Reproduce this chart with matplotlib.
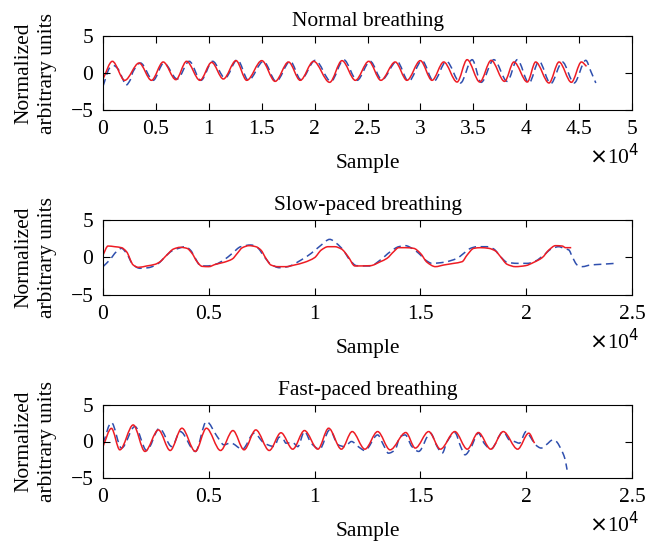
import numpy as np
import matplotlib
matplotlib.use("Agg")
import matplotlib.pyplot as plt
from matplotlib.path import Path
from matplotlib.patches import PathPatch

plt.rcParams['font.family'] = ['Liberation Serif', 'DejaVu Serif']

# ---------------- data ----------------
titles = ["Normal breathing", "Slow-paced breathing", "Fast-paced breathing"]
x_max = [5e4, 2.5e4, 2.5e4]
x_tick_labels = [["0", "0.5", "1", "1.5", "2", "2.5", "3", "3.5", "4", "4.5", "5"],
                 ["0", "0.5", "1", "1.5", "2", "2.5"],
                 ["0", "0.5", "1", "1.5", "2", "2.5"]]
y_ticks = [-5, 0, 5]

# Normal breathing
normal_red_x = [0, 885, 2054, 3412, 4581, 5687, 6888, 7899, 9163, 10269, 11374, 12575,
                13586, 15008, 16272, 17536, 18641, 19905, 21422, 22591, 23855, 25118,
                26264, 27622, 28728, 29992, 31098, 32204, 33468, 34415, 35616, 36690,
                37954, 38839, 40103, 40893, 42156, 43104, 44273, 45221, 45700]
normal_red_y = [-0.8, 1.58, -0.99, 1.35, -0.99, 1.49, -0.9, 1.58, -0.99, 1.44, -0.81, 1.67,
                -0.99, 1.67, -1.13, 1.49, -0.99, 1.58, -1.26, 1.67, -0.99, 1.58,
                -0.99, 1.49, -0.99, 1.67, -0.99, 1.49, -1.22, 1.8, -1.22, 1.71,
                -1.13, 1.49, -1.22, 1.49, -1.35, 1.49, -1.26, 1.49, 0.9]
normal_blue_x = [0, 632, 1011, 1422, 1896, 2149, 2591, 2844, 3539, 4740, 5750, 7014, 8152,
                 9258, 10363, 11532, 12701, 13744, 15166, 16367, 17694, 18705, 20063,
                 21548, 22749, 24013, 25253, 26359, 27780, 28886, 30150, 31256, 32457,
                 33784, 34890, 35743, 36943, 38207, 39155, 40261, 41209, 42314, 43420,
                 44526, 45632, 46106, 46580]
normal_blue_y = [-1.8, 0.68, 1.0, 0.54, -0.9, -1.67, -0.9, 0.2, 1.35, -0.99, 1.35, -0.81, 1.58,
                 -0.99, 1.58, -0.68, 1.8, -0.99, 1.58, -1.13, 1.58, -0.9, 1.71,
                 -1.13, 1.8, -0.99, 1.58, -0.9, 1.58, -1.13, 1.67, -1.13, 1.58,
                 -1.35, 1.8, -1.26, 1.8, -1.13, 1.8, -1.35, 1.58, -1.44, 1.49,
                 -1.35, 1.71, 0.23, -1.35]

# Slow-paced breathing
slow_red_x = [0, 238, 556, 873, 1111, 1429, 1667, 2063, 2460, 2698, 3016, 3333, 3651, 3968,
              4206, 4444, 4683, 5000, 5317, 5714, 6111, 6349, 6587, 6905, 7222, 7460, 7698,
              7937, 8254, 8651, 9048, 9524, 10000, 10317, 10635, 10952, 11270, 11587, 11905,
              12634, 13107, 13423, 13738, 13975, 14290, 14685, 15000, 15315, 15710,
              16104, 16577, 16971, 17208, 17523, 17839, 18233, 18548, 18785, 19100, 19495,
              19968, 20362, 20756, 21072, 21387, 21702, 21860, 22128]
slow_red_y = [0.33, 1.53, 1.44, 1.31, 0.78, -1.0, -1.31, -1.13, -0.91, -0.56, 0.33, 1.13, 1.36, 1.22,
              0.56, -0.56, -1.18, -1.22, -0.91, -0.64, -0.2, 0.56, 1.31, 1.58, 1.44, 1.0, -0.11,
              -1.0, -1.22, -1.22, -1.0, -0.64, -0.02, 1.0, 1.44, 1.44, 1.13, 0.11, -1.13,
              -1.09, -0.56, -0.11, 0.78, 1.31, 1.31, 1.22, 0.56, -0.64, -1.22,
              -1.0, -0.78, -0.56, 0.33, 1.22, 1.31, 1.22, 0.87, 0.11, -0.91, -1.22,
              -1.09, -0.64, -0.02, 1.0, 1.58, 1.53, 1.31, 1.31]
slow_blue_x = [0, 317, 635, 873, 1111, 1429, 1746, 2143, 2619, 2937, 3254, 3571, 3889, 4127,
               4365, 4603, 4921, 5317, 5714, 6111, 6508, 6984, 7302, 7619, 7937, 8333, 8730,
               9365, 9841, 10317, 10714, 11032, 11349, 11667, 11984, 12634, 13107, 13580,
               13975, 14290, 14606, 14921, 15237, 15552, 16104, 16735, 17050, 17366, 17681,
               18154, 18469, 18785, 19100, 19573, 20047, 20441, 20835, 21230, 21545, 21781,
               22018, 22175, 22412, 22648, 23042, 23516, 24225]
slow_blue_y = [-1.22, -0.33, 0.78, 1.22, 0.56, -1.0, -1.44, -1.36, -0.78, 0.11, 0.87, 1.22, 1.44, 1.0,
               -0.11, -1.09, -1.13, -0.91, -0.33, 0.56, 1.44, 1.67, 1.31, 0.11, -0.91, -1.36, -1.22,
               -0.33, 0.56, 1.67, 2.42, 1.89, 1.0, -0.33, -1.09, -1.13, -0.33, 0.78,
               1.44, 1.58, 1.22, 0.56, -0.33, -0.78, -0.64, -0.11, 0.56, 1.22, 1.44,
               1.44, 1.13, 0.11, -0.64, -0.78, -0.78, -0.47, 0.33, 1.22, 1.44, 1.22,
               1.0, 0.11, -1.0, -1.22, -1.0, -0.91, -0.78]

# Fast-paced breathing
fast_red_x = [0, 398, 795, 1429, 1985, 2619, 3175, 3730, 4365, 4888, 5555, 6142, 6666, 7221,
              7856, 8411, 8967, 9520, 10155, 10663, 11266, 11777, 12377, 12980, 13566,
              14312, 14758, 15391, 15946, 16628, 17216, 17740, 18326, 18916, 19597,
              20120, 20392]
fast_red_y = [-0.68, 1.8, -1.14, 2.27, -1.36, 1.59, -1.23, 1.82, -1.36, 1.82, -1.23, 1.5, -1.14, 1.59,
              -1.23, 1.2, -1.05, 1.5, -1.05, 1.82, -1.05, 1.36, -1.05, 1.36, -1.14,
              1.23, -0.9, 1.36, -1.05, 1.36, -1.05, 1.23, -1.05, 1.36, -1.05,
              1.14, -0.23]
fast_blue_x = [0, 398, 874, 1509, 2064, 2667, 3254, 3651, 4365, 4888, 5396, 5713, 6031, 6586,
               7142, 7618, 8094, 8330, 8491, 8649, 8967, 9205, 9520, 9839, 10236, 10712,
               11109, 11426, 11744, 12061, 12378, 12981, 13251, 13489, 13807, 14045, 14283,
               14600, 14918, 15473, 15791, 16029, 16265, 16628, 16900, 17107, 17376, 17740,
               18010, 18326, 18916, 19200, 19440, 19677, 19995, 20185, 20439, 20709, 20947,
               21264, 21423, 21661, 21820, 21931]
fast_blue_y = [-0.3, 2.6, -0.9, 2.05, -1.23, 1.8, -0.7, 1.36, -1.36, 2.73, 0.68, -0.45, -0.2, -1.05,
               1.14, -0.23, -0.68, 0.6, 0.45, -0.23, -0.15, -0.7, 1.36, -0.23, -1.05, 1.59,
               -0.45, -0.7, 0.0, -0.7, -1.23, 0.9, -0.45, -1.6, -1.14, 0.68, 0.9,
               -0.7, -1.36, 1.14, -0.7, -1.6, 0.0, 1.23, -0.68, -1.82, -0.9, 1.14,
               -0.23, -1.05, 1.36, 0.23, 0.0, -0.23, 1.36, 0.68, -0.45, -0.9, -0.45,
               0.23, 0.0, -1.14, -2.27, -3.86]

series = [
    (normal_blue_x, normal_blue_y, normal_red_x, normal_red_y),
    (slow_blue_x, slow_blue_y, slow_red_x, slow_red_y),
    (fast_blue_x, fast_blue_y, fast_red_x, fast_red_y),
]

RED = '#ee1c24'
BLUE = '#2f4fae'


def smooth_line(ax, x, y, **kw):
    """Render the read points as a smooth (monotone cubic Bezier) path."""
    x = np.asarray(x, float)
    y = np.asarray(y, float)
    d = np.diff(y) / np.diff(x)
    m = np.zeros_like(y)
    m[0], m[-1] = d[0], d[-1]
    for i in range(1, len(y) - 1):
        if d[i - 1] * d[i] > 0:
            m[i] = 2.0 / (1.0 / d[i - 1] + 1.0 / d[i])
    verts = [(x[0], y[0])]
    codes = [Path.MOVETO]
    for i in range(len(x) - 1):
        h = x[i + 1] - x[i]
        verts += [(x[i] + h / 3, y[i] + m[i] * h / 3),
                  (x[i + 1] - h / 3, y[i + 1] - m[i + 1] * h / 3),
                  (x[i + 1], y[i + 1])]
        codes += [Path.CURVE4] * 3
    ax.add_patch(PathPatch(Path(verts, codes), fill=False, **kw))


fig = plt.figure(figsize=(6.45, 5.46), dpi=100)
W, H = 645.0, 546.0
# (top px, bottom px) of each axes box
boxes = [(36, 110), (220, 295), (405, 478)]
left_px, right_px = 103, 632
FS = 15.5

for k in range(3):
    top, bot = boxes[k]
    ax = fig.add_axes([left_px / W, 1 - bot / H, (right_px - left_px) / W, (bot - top) / H])
    bx, by, rx, ry = series[k]
    smooth_line(ax, bx, by, edgecolor=BLUE, lw=1.1, linestyle=(0, (5, 3)))
    smooth_line(ax, rx, ry, edgecolor=RED, lw=1.1)
    ax.set_xlim(0, x_max[k])
    ax.set_ylim(-5, 5)
    ticks = np.linspace(0, x_max[k], len(x_tick_labels[k]))
    ax.set_xticks(ticks)
    ax.set_xticklabels(x_tick_labels[k])
    ax.set_yticks(y_ticks)
    ax.tick_params(direction='in', top=True, right=True, length=5, width=0.8,
                   labelsize=FS, pad=7)
    for s in ax.spines.values():
        s.set_linewidth(0.8)
    ax.set_title(titles[k], fontsize=FS, pad=7)
    ax.set_xlabel("Sample", fontsize=FS, labelpad=11)
    ax.set_ylabel("Normalized\narbitrary units", fontsize=FS, labelpad=10, linespacing=1.3)
    fig.text(right_px / W + 0.012, 1 - (bot + 47) / H, r"$\times$10$^{4}$", fontsize=FS,
             ha='right', va='center')

fig.savefig("out.png", dpi=100)
